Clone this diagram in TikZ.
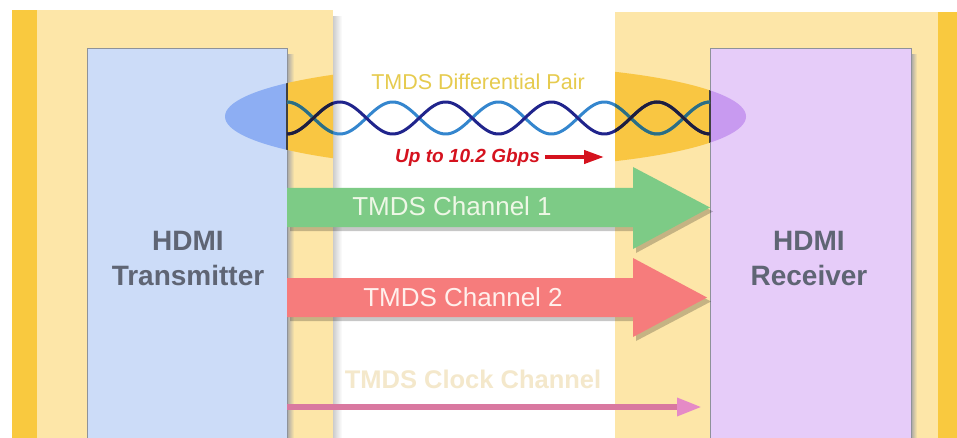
\documentclass[tikz,border=0pt]{standalone}
\usepackage{fontspec}
\setmainfont{Liberation Sans}
\usetikzlibrary{arrows.meta}

\definecolor{stripe}{RGB}{249,201,63}
\definecolor{panel}{RGB}{253,230,168}
\definecolor{txfill}{RGB}{204,220,248}
\definecolor{rxfill}{RGB}{230,204,249}
\definecolor{boxline}{RGB}{142,146,153}
\definecolor{ellblue}{RGB}{141,174,243}
\definecolor{ellgold}{RGB}{249,198,66}
\definecolor{ellpurple}{RGB}{200,154,240}
\definecolor{wiredark}{RGB}{32,36,140}
\definecolor{wirelight}{RGB}{52,134,206}
\definecolor{wiredarkgold}{RGB}{30,30,62}
\definecolor{wirelightgold}{RGB}{44,110,130}
\definecolor{pairlabel}{RGB}{230,203,78}
\definecolor{ratered}{RGB}{213,18,30}
\definecolor{chgreen}{RGB}{125,203,134}
\definecolor{chgreentext}{RGB}{238,247,230}
\definecolor{chred}{RGB}{246,124,124}
\definecolor{chredtext}{RGB}{255,240,236}
\definecolor{clkline}{RGB}{217,120,160}
\definecolor{clkhead}{RGB}{229,138,198}
\definecolor{clktext}{RGB}{244,232,203}
\definecolor{hdmitext}{RGB}{95,101,116}

\tikzset{
  blockshadow/.style={fill=black, fill opacity=0.22},
  chlabel/.style={anchor=base, inner sep=0pt, font=\fontsize{26}{30}\selectfont},
  hdmilabel/.style={anchor=base, inner sep=0pt, text=hdmitext,
    font=\fontsize{28}{34}\selectfont\bfseries},
  hdmibox/.style={draw=boxline, line width=1.2pt, anchor=north west,
    minimum width=200pt, minimum height=400pt, inner sep=0pt},
  wire/.style={line width=3pt}
}

\begin{document}
\begin{tikzpicture}[x=1pt,y=-1pt]
\useasboundingbox (0,0) rectangle (957,438);
\fill[white] (0,0) rectangle (957,438);

% side panels
\fill[stripe] (12,10) rectangle (37,438);
\fill[panel] (37,10) rectangle (333,438);
\shade[left color=black!20, right color=white] (333,17) rectangle (342,438);
\fill[panel] (615,12) rectangle (938,438);
\fill[stripe] (938,12) rectangle (957,438);

% box shadows
\shade[left color=black!35, right color=panel] (287,55) rectangle (294,438);
\shade[left color=black!35, right color=panel] (911,55) rectangle (917,438);

% transmitter and receiver boxes
\node[hdmibox, fill=txfill] (tx) at (87,48) {};
\node[hdmibox, fill=rxfill, minimum width=201pt] (rx) at (710,48) {};

% differential pair ellipse, tinted by what lies under it
\coordinate (ellc) at (485.5,116.5);
\begin{scope}
  \clip (87,48) rectangle (287,438);
  \fill[ellblue] (ellc) ellipse [x radius=260.5pt, y radius=51.5pt];
\end{scope}
\begin{scope}
  \clip (287,0) rectangle (333,438) (615,0) rectangle (710,438);
  \fill[ellgold] (ellc) ellipse [x radius=260.5pt, y radius=51.5pt];
\end{scope}
\begin{scope}
  \clip (710,48) rectangle (911,438);
  \fill[ellpurple] (ellc) ellipse [x radius=260.5pt, y radius=51.5pt];
\end{scope}
\begin{scope}
  \clip (ellc) ellipse [x radius=260.5pt, y radius=51.5pt];
  \draw[black!75, line width=1.5pt] (287,48) -- (287,200);
  \draw[black!75, line width=1.5pt] (710,48) -- (710,200);
\end{scope}

% twisted pair: 8 half twists between the boxes
\draw[wire, wirelight] plot[domain=0:423, samples=240, smooth]
  ({287+\x}, {118-16*cos(\x*3.40426)});
\draw[wire, wiredark] plot[domain=0:423, samples=240, smooth]
  ({287+\x}, {118+16*cos(\x*3.40426)});
\begin{scope}
  \clip (287,0) rectangle (333,438) (615,0) rectangle (710,438);
  \draw[wire, wirelightgold] plot[domain=0:423, samples=240, smooth]
    ({287+\x}, {118-16*cos(\x*3.40426)});
  \draw[wire, wiredarkgold] plot[domain=0:423, samples=240, smooth]
    ({287+\x}, {118+16*cos(\x*3.40426)});
\end{scope}

\node[anchor=base, inner sep=0pt, text=pairlabel,
  font=\fontsize{21.5}{26}\selectfont] (pair) at (478,90) {TMDS Differential Pair};

\node[anchor=base, inner sep=0pt, text=ratered,
  font=\fontsize{19}{23}\selectfont\bfseries\itshape] (rate) at (467.5,163) {Up to 10.2 Gbps};
\coordinate (ratetip) at (604,157);
\draw[ratered, line width=4pt, -{Triangle[length=20pt, width=13pt]}]
  ([xshift=5pt]rate.east |- ratetip) -- (ratetip);

% TMDS channel 1
\fill[blockshadow] (290,192) -- (636,192) -- (636,171) -- (713,211.5)
  -- (636,253) -- (636,231) -- (290,231) -- cycle;
\fill[chgreen] (287,188) -- (633,188) -- (633,167) -- (710,207.5)
  -- (633,249) -- (633,227) -- (287,227) -- cycle;
\node[chlabel, text=chgreentext] (ch1) at (452,215) {TMDS Channel 1};

% TMDS channel 2
\fill[blockshadow] (290,282) -- (636,282) -- (636,262) -- (711,301.5)
  -- (636,341) -- (636,321) -- (290,321) -- cycle;
\fill[chred] (287,278) -- (633,278) -- (633,258) -- (707,297.5)
  -- (633,337) -- (633,317) -- (287,317) -- cycle;
\node[chlabel, text=chredtext] (ch2) at (463,306) {TMDS Channel 2};

% clock channel
\node[anchor=base, inner sep=0pt, text=clktext,
  font=\fontsize{25.5}{30}\selectfont\bfseries] (clk) at (473,388) {TMDS Clock Channel};
\coordinate (clkstart) at (287,407);
\coordinate (clkend) at (702,407);
\draw[clkline, line width=6pt,
  -{Triangle[length=25pt, width=17pt, fill=clkhead, color=clkhead]}]
  (clkstart) -- (clkend);

% box captions
\node[hdmilabel] (txa) at (188,251) {HDMI};
\node[hdmilabel] (txb) at (188,285) {Transmitter};
\node[hdmilabel] (rxa) at (809,251) {HDMI};
\node[hdmilabel] (rxb) at (809,285) {Receiver};
\end{tikzpicture}
\end{document}
